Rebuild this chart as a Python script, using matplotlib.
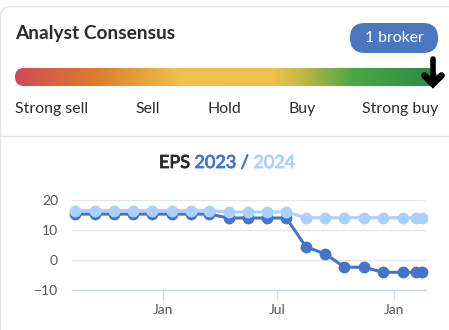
import numpy as np
import pandas as pd
import matplotlib
matplotlib.use("Agg")
import matplotlib.pyplot as plt
import matplotlib.dates as mdates
import matplotlib.patheffects as pe
from matplotlib.colors import LinearSegmentedColormap
from matplotlib.patches import FancyBboxPatch

plt.rcParams['font.family'] = ['Lato', 'DejaVu Sans']

# consensus scale
scale_labels = ["Strong sell", "Sell", "Hold", "Buy", "Strong buy"]
broker_text = "1 broker"

# EPS estimate revisions
dates = pd.to_datetime([
    "2022-08-15", "2022-09-15", "2022-10-15", "2022-11-15", "2022-12-15",
    "2023-01-15", "2023-02-15", "2023-03-15", "2023-04-15", "2023-05-15",
    "2023-06-15", "2023-07-15", "2023-08-15", "2023-09-15", "2023-10-15",
    "2023-11-15", "2023-12-15", "2024-01-15", "2024-02-05", "2024-02-14",
])
eps_2023 = [15.3, 15.3, 15.3, 15.3, 15.3, 15.3, 15.3, 15.3, 14.0, 14.0,
            14.0, 14.0, 4.4, 2.0, -2.4, -2.4, -4.1, -4.1, -4.1, -4.1]
eps_2024 = [16.5, 16.5, 16.5, 16.5, 16.5, 16.5, 16.5, 16.5, 16.0, 16.0,
            16.0, 16.0, 14.1, 14.1, 14.1, 14.1, 14.1, 14.1, 14.1, 14.1]

C_DARK = "#4674c8"
C_LIGHT = "#a9d1ff"
TXT = "#2b2b2b"

W, H = 449, 330
fig = plt.figure(figsize=(W / 100, H / 100), dpi=100)
fig.patch.set_facecolor("white")

# overlay in pixel coordinates for the card
bg = fig.add_axes([0, 0, 1, 1])
bg.set_xlim(0, W)
bg.set_ylim(H, 0)
bg.axis("off")

card = FancyBboxPatch((0.5, 6.5), 470, 400, boxstyle="round,pad=0,rounding_size=10",
                      fc="none", ec="#e4e4e4", lw=1.0)
bg.add_patch(card)
bg.plot([0, W], [136, 136], color="#e4e4e4", lw=1.0)

bg.text(15, 34, "Analyst Consensus", fontsize=13.8, fontweight="bold",
        color=TXT, va="center", ha="left")

pill = FancyBboxPatch((350, 23), 88, 30, boxstyle="round,pad=0,rounding_size=15",
                      fc="#4a77bd", ec="none")
bg.add_patch(pill)
bg.text(394, 38.5, broker_text, fontsize=11.3, color="white", ha="center", va="center")

# gradient bar
stops = [(0.0, "#d04a56"), (0.19, "#dc7d2e"), (0.39, "#efc04a"),
         (0.61, "#f0c24a"), (0.68, "#c3b845"), (0.8, "#4aa843"), (1.0, "#2d8a44")]
cmap = LinearSegmentedColormap.from_list("consensus", stops)
bar_x0, bar_x1, bar_y0, bar_y1 = 15, 437, 68, 86
grad = np.linspace(0, 1, 512).reshape(1, -1)
im = bg.imshow(grad, cmap=cmap, aspect="auto",
               extent=[bar_x0, bar_x1, bar_y1, bar_y0], interpolation="bilinear")
clip = FancyBboxPatch((bar_x0, bar_y0), bar_x1 - bar_x0, bar_y1 - bar_y0,
                      boxstyle="round,pad=0,rounding_size=9", fc="none", ec="none")
bg.add_patch(clip)
im.set_clip_path(clip)
bg.set_xlim(0, W)
bg.set_ylim(H, 0)

# marker arrow at the rating position
ax_x = 433
bg.plot([ax_x, ax_x], [59, 83], color="black", lw=4.0, solid_capstyle="round")
bg.plot([424.5, ax_x, 441.5], [75.5, 84, 75.5], color="black", lw=4.8,
        solid_capstyle="round", solid_joinstyle="miter")

label_x = [15, 148, 224, 302, 438]
label_ha = ["left", "center", "center", "center", "right"]
for lbl, x, ha in zip(scale_labels, label_x, label_ha):
    bg.text(x, 109, lbl, fontsize=11.4, color=TXT, ha=ha, va="center")

# chart title in three colours, slightly heavier than body text
parts = [("EPS ", TXT), ("2023", C_DARK), (" / ", C_DARK), ("2024", C_LIGHT)]
fig.canvas.draw()
renderer = fig.canvas.get_renderer()
texts = []
for s, c in parts:
    t = bg.text(0, 163, s, fontsize=13, color=c, ha="left", va="center",
                path_effects=[pe.withStroke(linewidth=0.6, foreground=c)])
    texts.append(t)
widths = [t.get_window_extent(renderer).width for t in texts]
x = 227 - sum(widths) / 2
for t, w in zip(texts, widths):
    t.set_x(x)
    x += w

# EPS chart
ax = fig.add_axes([72 / W, 1 - 290 / H, (426 - 72) / W, 90 / H])
ax.set_zorder(2)
ax.patch.set_alpha(0)
ax.plot(dates, eps_2023, color=C_DARK, lw=2.2, marker="o", ms=7.5, clip_on=False, zorder=3)
ax.plot(dates, eps_2024, color=C_LIGHT, lw=2.2, marker="o", ms=7.5, clip_on=False, zorder=4)

ax.set_xlim(pd.Timestamp("2022-08-10"), pd.Timestamp("2024-02-21"))
ax.set_ylim(-10, 20)
ax.set_yticks([-10, 0, 10, 20])
ax.set_yticklabels(["\u221210", "0", "10", "20"])
ax.yaxis.grid(True, color="#e6e6e6", lw=1)
ax.set_axisbelow(True)
ax.xaxis.set_major_locator(mdates.MonthLocator(bymonth=[1, 7]))
ax.xaxis.set_major_formatter(mdates.DateFormatter("%b"))
for side in ["top", "right", "left"]:
    ax.spines[side].set_visible(False)
ax.spines["bottom"].set_color("#ccd6eb")
ax.spines["bottom"].set_linewidth(1)
ax.tick_params(axis="y", length=0, pad=10, labelsize=10, labelcolor="#555555")
ax.tick_params(axis="x", length=7, width=1, color="#ccd6eb", pad=3,
               labelsize=10, labelcolor="#555555")

fig.savefig("out.png", dpi=100)
